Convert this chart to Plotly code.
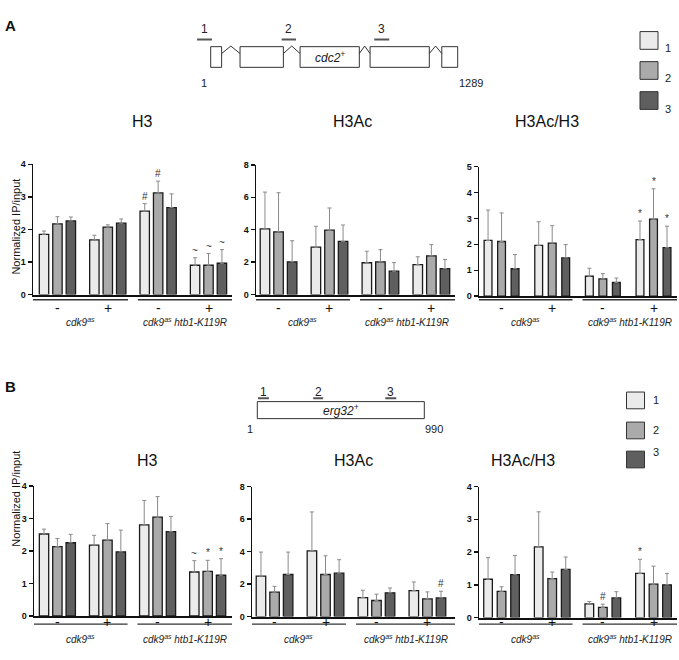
import plotly.graph_objects as go

W, H = 679, 660

# ---------------- data ----------------
conditions = ["cdk9as -", "cdk9as +", "cdk9as htb1-K119R -", "cdk9as htb1-K119R +"]
sign_labels = ["-", "+", "-", "+"]
strain_labels = ["<i>cdk9<sup>as</sup></i>", "<i>cdk9<sup>as</sup> htb1-K119R</i>"]
region_names = ["1", "2", "3"]
region_colors = ["#ebebeb", "#aaaaaa", "#5f5f5f"]
panel_titles = ["H3", "H3Ac", "H3Ac/H3"]

# Panel A (cdc2+): mean / error / significance mark, one row per region
a_h3_mean = [[1.85, 1.68, 2.56, 0.90], [2.17, 2.07, 3.12, 0.90], [2.26, 2.19, 2.67, 0.96]]
a_h3_err = [[0.10, 0.14, 0.23, 0.23], [0.22, 0.07, 0.36, 0.36], [0.12, 0.13, 0.42, 0.42]]
a_h3_mark = [["", "", "#", "~"], ["", "", "#", "~"], ["", "", "", "~"]]

a_h3ac_mean = [[4.05, 2.92, 1.96, 1.84], [3.87, 3.97, 2.02, 2.39], [2.02, 3.28, 1.44, 1.60]]
a_h3ac_err = [[2.27, 1.29, 0.71, 0.49], [2.41, 1.37, 0.75, 0.69], [1.30, 1.01, 0.53, 0.57]]
a_h3ac_mark = [["", "", "", ""], ["", "", "", ""], ["", "", "", ""]]

a_ratio_mean = [[2.15, 1.96, 0.77, 2.18], [2.11, 2.05, 0.67, 2.97], [1.06, 1.48, 0.53, 1.87]]
a_ratio_err = [[1.17, 0.91, 0.31, 0.72], [1.10, 0.67, 0.20, 1.17], [0.55, 0.51, 0.17, 0.83]]
a_ratio_mark = [["", "", "", "*"], ["", "", "", "*"], ["", "", "", "*"]]

# Panel B (erg32+)
b_h3_mean = [[2.52, 2.18, 2.80, 1.35], [2.13, 2.33, 3.04, 1.37], [2.25, 1.97, 2.59, 1.25]]
b_h3_err = [[0.15, 0.30, 0.75, 0.35], [0.25, 0.51, 0.63, 0.34], [0.26, 0.67, 0.47, 0.51]]
b_h3_mark = [["", "", "", "~"], ["", "", "", "*"], ["", "", "", "*"]]

b_h3ac_mean = [[2.49, 4.05, 1.17, 1.60], [1.50, 2.59, 0.99, 1.09], [2.59, 2.67, 1.46, 1.15]]
b_h3ac_err = [[1.48, 2.39, 0.45, 0.53], [0.36, 1.15, 0.39, 0.43], [1.38, 0.83, 0.30, 0.41]]
b_h3ac_mark = [["", "", "", ""], ["", "", "", ""], ["", "", "", "#"]]

b_ratio_mean = [[1.17, 2.16, 0.42, 1.35], [0.80, 1.19, 0.31, 1.02], [1.31, 1.47, 0.60, 1.00]]
b_ratio_err = [[0.66, 1.07, 0.07, 0.43], [0.14, 0.20, 0.10, 0.55], [0.59, 0.38, 0.19, 0.35]]
b_ratio_mark = [["", "", "", "*"], ["", "", "#", ""], ["", "", "", ""]]

# gene maps (bp)
cdc2_length = 1289
cdc2_exons = [(1, 58), (154, 380), (467, 776), (832, 1141), (1206, 1289)]
cdc2_primers = [(-70, 8), (371, 446), (854, 932)]
erg32_length = 990
erg32_exons = [(1, 990)]
erg32_primers = [(5, 70), (332, 391), (759, 824)]

FONT = "Liberation Sans, Arial, sans-serif"


# ---------------- layout helpers ----------------
def px(x):
    return x / W


def py(y):
    return 1 - y / H


GROUP_STEP = 3.75

fig = go.Figure()
layout = dict(
    width=W, height=H, margin=dict(l=0, r=0, t=0, b=0),
    paper_bgcolor="white", plot_bgcolor="white", showlegend=False,
    font=dict(family=FONT, color="#111"),
    bargap=0, barmode="overlay",
)
annotations = []
shapes = []

panels = [
    # panel A
    dict(mean=a_h3_mean, err=a_h3_err, mark=a_h3_mark, title=panel_titles[0],
         l=33, r=232, t=161.7, b=294, ymax=4, dtick=1, xr=(-0.82, 14.0), bw=0.70),
    dict(mean=a_h3ac_mean, err=a_h3ac_err, mark=a_h3ac_mark, title=panel_titles[1],
         l=256, r=455, t=162.3, b=294, ymax=8, dtick=2, xr=(-0.66, 13.99), bw=0.70),
    dict(mean=a_ratio_mean, err=a_ratio_err, mark=a_ratio_mark, title=panel_titles[2],
         l=479, r=677, t=164, b=295.7, ymax=5, dtick=1, xr=(-0.67, 13.99), bw=0.58),
    # panel B
    dict(mean=b_h3_mean, err=b_h3_err, mark=b_h3_mark, title=panel_titles[0],
         l=34, r=232, t=488.3, b=620.3, ymax=4, dtick=1, xr=(-0.75, 14.07), bw=0.70),
    dict(mean=b_h3ac_mean, err=b_h3ac_err, mark=b_h3ac_mark, title=panel_titles[1],
         l=252, r=455, t=489, b=621, ymax=8, dtick=2, xr=(-0.66, 14.28), bw=0.70),
    dict(mean=b_ratio_mean, err=b_ratio_err, mark=b_ratio_mark, title=panel_titles[2],
         l=479, r=677, t=489, b=622, ymax=4, dtick=1, xr=(-0.67, 13.99), bw=0.64),
]
title_pos = [(130, 108), (352, 108), (581, 108), (135, 473), (353, 473), (557, 473)]
underline_y = [299.3, 299.3, 299.3, 628.7, 628.7, 628.7]
sign_y = [307.5, 307.5, 307.5, 637, 637, 637]
strain_y = [321.5, 321.5, 321.5, 652, 652, 652]

for k, p in enumerate(panels):
    n = k + 1
    xa = "x" if n == 1 else f"x{n}"
    ya = "y" if n == 1 else f"y{n}"
    for i in range(3):
        xs = [g * GROUP_STEP + i for g in range(4)]
        fig.add_trace(go.Bar(
            x=xs, y=p["mean"][i], width=p["bw"], name=region_names[i],
            marker=dict(color=region_colors[i], line=dict(color="#1a1a1a", width=1.3)),
            error_y=dict(type="data", array=p["err"][i], arrayminus=[0] * 4,
                         symmetric=False, color="#8a8a8a", thickness=1, width=2),
            xaxis=xa, yaxis=ya, showlegend=False, hoverinfo="skip",
        ))
        for g in range(4):
            if p["mark"][i][g]:
                annotations.append(dict(
                    x=xs[g], y=p["mean"][i][g] + p["err"][i][g], xref=xa, yref=ya,
                    text=p["mark"][i][g], showarrow=False, yanchor="bottom", yshift=0,
                    font=dict(family=FONT, size=10, color="#333333")))
    xname = "xaxis" if n == 1 else f"xaxis{n}"
    yname = "yaxis" if n == 1 else f"yaxis{n}"
    layout[xname] = dict(domain=[px(p["l"]), px(p["r"])], range=list(p["xr"]), anchor=ya,
                         showline=True, linewidth=2, linecolor="#111", showticklabels=False,
                         ticks="", showgrid=False, zeroline=False, fixedrange=True)
    layout[yname] = dict(domain=[py(p["b"]), py(p["t"])], range=[0, p["ymax"]], anchor=xa,
                         showline=True, linewidth=1.5, linecolor="#111", ticks="outside",
                         ticklen=4, tickwidth=1.5, tickcolor="#111", dtick=p["dtick"],
                         tick0=0, showgrid=False, zeroline=False, fixedrange=True,
                         tickfont=dict(family=FONT, size=9, weight="bold", color="#111"))
    tx, ty = title_pos[k]
    annotations.append(dict(x=px(tx), y=py(ty), xref="paper", yref="paper", text=p["title"],
                            showarrow=False, font=dict(family=FONT, size=16, color="#111")))
    g_first = [g * GROUP_STEP for g in range(4)]
    mid = (g_first[1] + 2 + g_first[2]) / 2
    half_gap = 0.37
    spans = [(p["xr"][0], mid - half_gap), (mid + half_gap, p["xr"][1])]
    for (x0, x1) in spans:
        shapes.append(dict(type="line", xref=xa, yref="paper", x0=x0, x1=x1,
                           y0=py(underline_y[k]), y1=py(underline_y[k]),
                           line=dict(color="#333", width=1.3)))
    for g in range(4):
        annotations.append(dict(x=g_first[g] + 1, y=py(sign_y[k]), xref=xa, yref="paper",
                                text=sign_labels[g], showarrow=False,
                                font=dict(family=FONT, size=14, color="#111")))
    for s, (x0, x1) in enumerate(spans):
        annotations.append(dict(x=(x0 + x1) / 2, y=py(strain_y[k]), xref=xa, yref="paper",
                                text=strain_labels[s], showarrow=False,
                                font=dict(family=FONT, size=10, color="#222")))

for yc in (225, 552):
    annotations.append(dict(x=px(8), y=py(yc), xref="paper", yref="paper",
                            text="Normalized IP/input", textangle=-90, showarrow=False,
                            font=dict(family=FONT, size=11, color="#111")))

annotations.append(dict(x=px(3), y=py(10), xref="paper", yref="paper", text="<b>A</b>",
                        showarrow=False, xanchor="left",
                        font=dict(family=FONT, size=15, color="#111")))
annotations.append(dict(x=px(3), y=py(387), xref="paper", yref="paper", text="<b>B</b>",
                        showarrow=False, xanchor="left",
                        font=dict(family=FONT, size=15, color="#111")))

# ---------------- gene maps ----------------
genes = [
    dict(ax=7, exons=cdc2_exons, primers=cdc2_primers, length=cdc2_length,
         name="<i>cdc2<sup>+</sup></i>", name_exon=2,
         start_px=210.7, end_px=457.7, pad=(100, 110), dom_y=(15, 90), zero_px=63.3,
         unit_px=21, primer_y=1.35, label_y=1.87, end_y=-0.76, intron=True),
    dict(ax=8, exons=erg32_exons, primers=erg32_primers, length=erg32_length,
         name="<i>erg32<sup>+</sup></i>", name_exon=0,
         start_px=257.3, end_px=424.3, pad=(60, 70), dom_y=(380, 440), zero_px=420,
         unit_px=17.3, primer_y=1.2, label_y=1.54, end_y=-0.58, intron=False),
]
for gdef in genes:
    n = gdef["ax"]
    xa, ya = f"x{n}", f"y{n}"
    t_px, b_px = gdef["dom_y"]
    scale = (gdef["end_px"] - gdef["start_px"]) / (gdef["length"] - 1)
    lo, hi = 1 - gdef["pad"][0], gdef["length"] + gdef["pad"][1]
    layout[f"xaxis{n}"] = dict(domain=[px(gdef["start_px"] - gdef["pad"][0] * scale),
                                       px(gdef["end_px"] + gdef["pad"][1] * scale)],
                               range=[lo, hi], visible=False, anchor=ya, fixedrange=True)
    layout[f"yaxis{n}"] = dict(domain=[py(b_px), py(t_px)],
                               range=[(gdef["zero_px"] - b_px) / gdef["unit_px"],
                                      (gdef["zero_px"] - t_px) / gdef["unit_px"]],
                               visible=False, anchor=xa, fixedrange=True)
    fig.add_trace(go.Scatter(x=[], y=[], xaxis=xa, yaxis=ya, showlegend=False))
    ex = gdef["exons"]
    for (s, e) in ex:
        shapes.append(dict(type="rect", xref=xa, yref=ya, x0=s, x1=e, y0=0, y1=1,
                           line=dict(color="#333", width=1), fillcolor="white"))
    if gdef["intron"]:
        for j in range(len(ex) - 1):
            a, b = ex[j][1], ex[j + 1][0]
            m = (a + b) / 2
            shapes.append(dict(type="path", xref=xa, yref=ya,
                               path=f"M {a},0.667 L {m},1.03 L {b},0.667",
                               line=dict(color="#333", width=1)))
    for j, (s, e) in enumerate(gdef["primers"]):
        shapes.append(dict(type="line", xref=xa, yref=ya, x0=s, x1=e,
                           y0=gdef["primer_y"], y1=gdef["primer_y"],
                           line=dict(color="#555", width=2)))
        annotations.append(dict(x=(s + e) / 2, y=gdef["label_y"], xref=xa, yref=ya,
                                text=region_names[j], showarrow=False,
                                font=dict(family=FONT, size=12, color="#222")))
    ne = ex[gdef["name_exon"]]
    annotations.append(dict(x=(ne[0] + ne[1]) / 2, y=0.5, xref=xa, yref=ya,
                            text=gdef["name"], showarrow=False,
                            font=dict(family=FONT, size=12, color="#222")))
    annotations.append(dict(x=1, y=gdef["end_y"], xref=xa, yref=ya, text="1",
                            xanchor="right", xshift=-2, showarrow=False,
                            font=dict(family=FONT, size=11, color="#222")))
    annotations.append(dict(x=gdef["length"], y=gdef["end_y"], xref=xa, yref=ya,
                            text=str(gdef["length"]), xanchor="left", xshift=-1,
                            showarrow=False, font=dict(family=FONT, size=11, color="#222")))

# ---------------- custom legends ----------------
legends = [dict(x0=640, x1=658, tops=[27, 57.5, 88], size=18, lx=673),
           dict(x0=626.5, x1=644.5, tops=[393, 423.5, 453], size=17, lx=661)]
for lg in legends:
    for i in range(3):
        t = lg["tops"][i]
        shapes.append(dict(type="rect", xref="paper", yref="paper",
                           x0=px(lg["x0"]), x1=px(lg["x1"]),
                           y0=py(t + lg["size"]), y1=py(t),
                           line=dict(color="#333", width=1), fillcolor=region_colors[i]))
        annotations.append(dict(x=px(lg["lx"]), y=py(t + lg["size"] / 2), xref="paper",
                                yref="paper", text=region_names[i], showarrow=False,
                                font=dict(family=FONT, size=11, color="#222")))

layout["annotations"] = annotations
layout["shapes"] = shapes
fig.update_layout(**layout)
fig.write_html("out.html", config={"displayModeBar": False, "staticPlot": True},
               post_script="document.body.style.margin='0';document.body.style.overflow='hidden';")
